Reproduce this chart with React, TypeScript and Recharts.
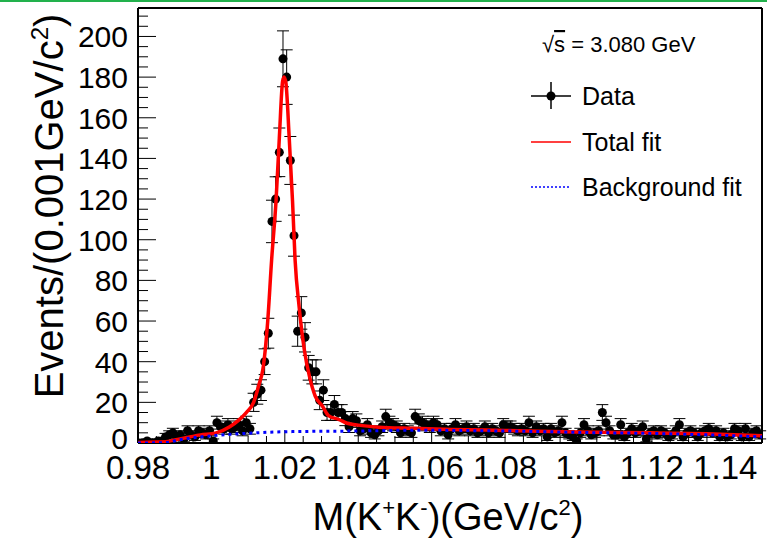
import { ComposedChart, XAxis, YAxis, Line, ErrorBar, ReferenceLine } from 'recharts';

// M(K+K-) histogram, 0.001 GeV bins from 0.98 to 1.15
const massLow = 0.98;
const binWidth = 0.001;
const counts = [
  0, 0, 1, 0, 0, 1, 1, 3, 4, 5,
  3, 4, 2, 6, 4, 3, 6, 5, 4, 6,
  1, 10, 8, 7, 9, 7, 8, 9, 6, 10,
  7, 20, 24, 26, 40, 54, 109, 120, 143, 189,
  180, 139, 102, 55, 64, 52, 37, 35, 35, 21,
  26, 15, 15, 19, 15, 15, 12, 8, 12, 11,
  6, 7, 9, 5, 4, 6, 8, 13, 10, 9,
  8, 5, 7, 6, 5, 13, 11, 10, 9, 8,
  10, 9, 6, 7, 4, 7, 9, 6, 7, 8,
  6, 7, 5, 6, 8, 5, 7, 6, 5, 9,
  8, 8, 7, 6, 7, 6, 10, 5, 8, 6,
  7, 3, 7, 5, 6, 10, 5, 4, 3, 1,
  5, 9, 6, 4, 5, 6, 15, 10, 6, 4,
  4, 9, 3, 5, 7, 5, 6, 8, 2, 5,
  6, 4, 6, 5, 3, 4, 6, 9, 3, 5,
  6, 5, 3, 5, 6, 7, 5, 6, 3, 5,
  3, 4, 7, 6, 3, 7, 3, 5, 6, 4,
];

// fit curves
const totalFitMass = [
  0.98, 0.985, 0.9875, 0.99, 0.993, 0.997, 1.0013, 1.005, 1.0076, 1.0095,
  1.0115, 1.013, 1.014, 1.0153, 1.0164, 1.0176, 1.0185, 1.0194, 1.0198, 1.0203,
  1.0212, 1.0221, 1.0228, 1.0239, 1.0253, 1.0268, 1.0283, 1.0303, 1.0319, 1.0348,
  1.037, 1.04, 1.0455, 1.0546, 1.0655, 1.08, 1.1, 1.12, 1.135, 1.15,
];
const totalFitValue = [
  0.3, 0.5, 0.6, 1.5, 2.6, 4.0, 5.0, 8.0, 11.5, 15,
  20, 29, 36, 59, 90, 119, 150, 178, 180, 177,
  150, 119, 90, 67, 46, 32, 23, 18, 13.5, 11.5,
  9.7, 8.8, 7.8, 7.2, 6.7, 6.2, 5.4, 5.0, 4.5, 3.6,
];
const bkgFitMass = [0.98, 0.985, 0.988, 0.991, 0.9975, 1.0065, 1.0156, 1.022, 1.04, 1.055, 1.07, 1.09, 1.1, 1.12, 1.135, 1.15];
const bkgFitValue = [0, 0.1, 0.3, 1.5, 3.1, 4.4, 5.3, 5.6, 5.9, 6.3, 6.1, 5.6, 5.2, 4.7, 4.0, 3.0];

const xLabels = [0.98, 1, 1.02, 1.04, 1.06, 1.08, 1.1, 1.12, 1.14];
const yLabels = [0, 20, 40, 60, 80, 100, 120, 140, 160, 180, 200];

const points = counts.map((n, i) => ({
  m: +(massLow + binWidth * (i + 0.5)).toFixed(4),
  n,
  err: Math.sqrt(n),
}));
const totalFit = totalFitMass.map((m, i) => ({ m, fit: totalFitValue[i] }));
const bkgFit = bkgFitMass.map((m, i) => ({ m, bkg: bkgFitValue[i] }));

const xTicks = Array.from({ length: 35 }, (_, i) => +(0.98 + i * 0.005).toFixed(3));
const yTicks = Array.from({ length: 43 }, (_, i) => i * 5);

const FONT = '"Liberation Sans", Arial, Helvetica, sans-serif';
const W = 767;
const H = 538;
const MARGIN = { top: 8, right: 5, bottom: 0, left: 0 };

function XTick(props: any) {
  const { x, y, payload } = props;
  const v = payload.value;
  const major = xLabels.some((t) => Math.abs(t - v) < 1e-6);
  return (
    <g>
      <line x1={x} x2={x} y1={y} y2={y - (major ? 13 : 7)} stroke="#000" strokeWidth={1} />
      {major && (
        <text x={x} y={y + 36} textAnchor="middle" fontSize={33} fontFamily={FONT} fill="#000">
          {String(v)}
        </text>
      )}
    </g>
  );
}

function YTick(props: any) {
  const { x, y, payload } = props;
  const v = payload.value;
  const major = yLabels.includes(v);
  return (
    <g>
      <line x1={x} x2={x + (major ? 18 : 10)} y1={y} y2={y} stroke="#000" strokeWidth={1} />
      {major && (
        <text x={x - 10} y={y + (v === 0 ? 6 : 11)} textAnchor="end" fontSize={30} fontFamily={FONT} fill="#000">
          {v}
        </text>
      )}
    </g>
  );
}

const Dot = (props: any) => <circle key={props.index} cx={props.cx} cy={props.cy} r={4.5} fill="#000" />;

export default function App() {
  return (
    <div style={{ position: 'absolute', left: 0, top: 0, width: W, height: H, background: '#fff' }}>
      <div style={{ position: 'absolute', left: 0, top: 0, width: W, height: 2, background: '#22b14c' }} />
      {/* data layer */}
      <div style={{ position: 'absolute', left: 0, top: 0 }}>
        <ComposedChart width={W} height={H} margin={MARGIN}>
          <XAxis
            dataKey="m"
            type="number"
            domain={[0.98, 1.15]}
            ticks={xTicks}
            interval={0}
            allowDataOverflow
            height={95}
            tickSize={0}
            tickMargin={0}
            tickLine={false}
            axisLine={{ stroke: '#000', strokeWidth: 2 }}
            tick={<XTick />}
          />
          <YAxis
            type="number"
            domain={[0, 214]}
            ticks={yTicks}
            interval={0}
            allowDataOverflow
            width={138}
            tickSize={0}
            tickMargin={0}
            tickLine={false}
            axisLine={{ stroke: '#000', strokeWidth: 2 }}
            tick={<YTick />}
          />
          <ReferenceLine x={1.15} stroke="#000" strokeWidth={2} />
          <ReferenceLine y={214} stroke="#000" strokeWidth={2} />
          <Line data={points} dataKey="n" stroke="none" dot={<Dot />} activeDot={false} isAnimationActive={false}>
            <ErrorBar dataKey="err" direction="y" width={6} stroke="#000" strokeWidth={1} />
          </Line>
        </ComposedChart>
      </div>
      {/* fit layer, drawn over the data like ROOT does */}
      <div style={{ position: 'absolute', left: 0, top: 0, pointerEvents: 'none' }}>
        <ComposedChart width={W} height={H} margin={MARGIN}>
          <XAxis dataKey="m" type="number" domain={[0.98, 1.15]} allowDataOverflow height={95} tick={false} axisLine={false} tickLine={false} />
          <YAxis type="number" domain={[0, 214]} allowDataOverflow width={138} tick={false} axisLine={false} tickLine={false} />
          <Line data={totalFit} dataKey="fit" type="monotone" stroke="#ff0000" strokeWidth={3.5} dot={false} activeDot={false} isAnimationActive={false} />
          <Line data={bkgFit} dataKey="bkg" type="monotone" stroke="#0000ff" strokeWidth={3} strokeDasharray="3 4" dot={false} activeDot={false} isAnimationActive={false} />
        </ComposedChart>
      </div>
      <svg width={W} height={H} style={{ position: 'absolute', left: 0, top: 0, pointerEvents: 'none' }} fontFamily={FONT}>
        <text x={542} y={52} fontSize={22} fill="#000">
          √<tspan style={{ textDecoration: 'overline' }}>s</tspan> = 3.080 GeV
        </text>
        <line x1={531} x2={571} y1={96} y2={96} stroke="#000" strokeWidth={1.5} />
        <line x1={551} x2={551} y1={82} y2={109} stroke="#000" strokeWidth={1.5} />
        <circle cx={551} cy={96} r={4.5} fill="#000" />
        <text x={582} y={105} fontSize={25} fill="#000">Data</text>
        <line x1={531} x2={571} y1={142} y2={142} stroke="#ff0000" strokeWidth={1.5} />
        <text x={582} y={151} fontSize={25} fill="#000">Total fit</text>
        <line x1={531} x2={571} y1={187} y2={187} stroke="#0000ff" strokeWidth={1.5} strokeDasharray="2 2" />
        <text x={582} y={196} fontSize={25} fill="#000">Background fit</text>
        <text transform="translate(63,206) rotate(-90)" textAnchor="middle" fontSize={40} fill="#000">
          Events/(0.001GeV/c<tspan dy={-15} fontSize={24}>2</tspan><tspan dy={15}>)</tspan>
        </text>
        <text x={448} y={530} textAnchor="middle" fontSize={38} fill="#000">
          M(K<tspan dy={-15} fontSize={22}>+</tspan><tspan dy={15}>K</tspan><tspan dy={-15} fontSize={22}>-</tspan><tspan dy={15}>)(GeV/c</tspan><tspan dy={-15} fontSize={22}>2</tspan><tspan dy={15}>)</tspan>
        </text>
      </svg>
    </div>
  );
}
